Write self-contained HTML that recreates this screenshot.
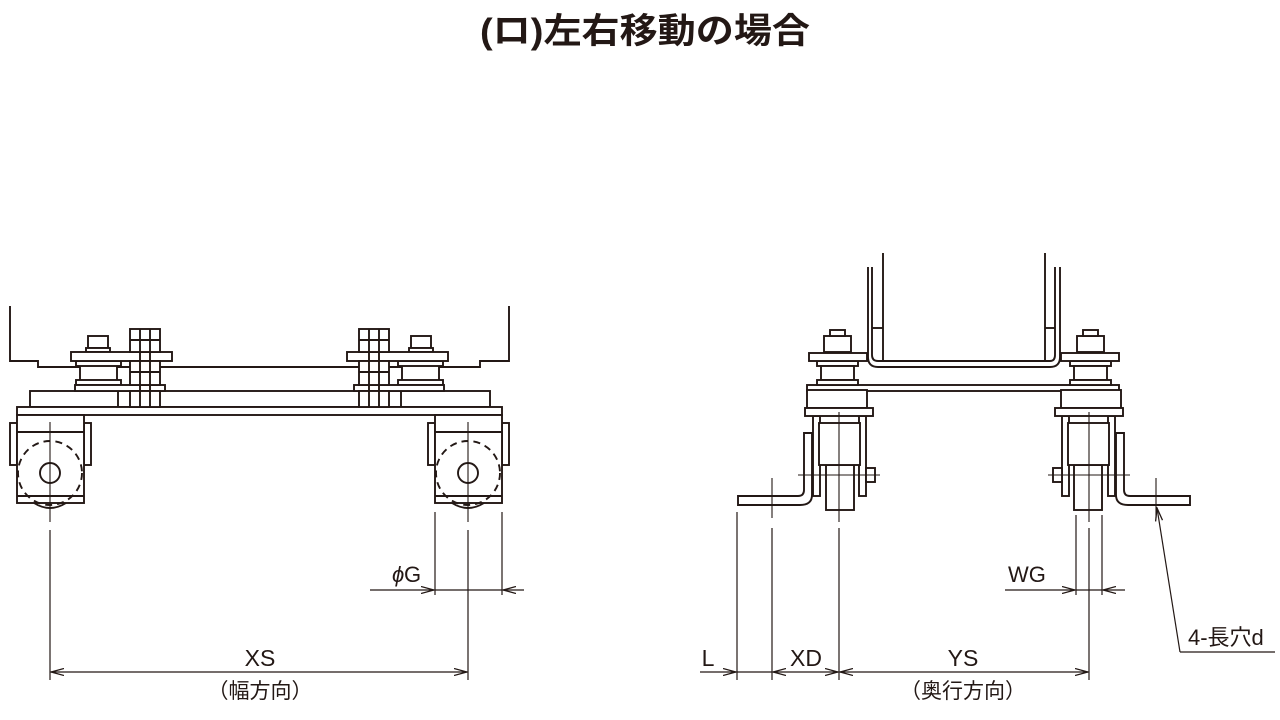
<!DOCTYPE html>
<html><head><meta charset="utf-8"><style>
html,body{margin:0;padding:0;background:#fff;}
svg{display:block}
text{font-family:"Liberation Sans","Noto Sans CJK JP",sans-serif;fill:#231815}
</style></head><body>
<svg width="1280" height="720" viewBox="0 0 1280 720" xmlns="http://www.w3.org/2000/svg">
<defs>
<marker id="ar" markerWidth="14" markerHeight="8" refX="13" refY="4" orient="auto-start-reverse" markerUnits="userSpaceOnUse">
<path d="M0,0.5 L13,4 L0,7.5" fill="none" stroke="#231815" stroke-width="1.3"/></marker>
<g id="caster" fill="#fff" stroke="#231815" stroke-width="1.9">
<rect x="10" y="423" width="7" height="42"/>
<rect x="84" y="423" width="7" height="42"/>
<path d="M34,503 Q50,513 66,503" fill="none"/>
<rect x="17" y="415" width="67" height="88"/>
<line x1="17" y1="432" x2="84" y2="432"/>
<line x1="17" y1="496" x2="84" y2="496"/>
<circle cx="50" cy="473" r="32" fill="none" stroke-dasharray="7,5"/>
<circle cx="50" cy="473" r="10" fill="none"/>
<line x1="50" y1="422" x2="50" y2="522" stroke-width="1.1"/>
</g>
<g id="boltL" fill="#fff" stroke="#231815" stroke-width="1.9">
<rect x="88" y="336" width="20" height="12"/><rect x="86" y="348" width="24" height="4"/>
<rect x="80" y="361" width="37" height="24"/>
<rect x="76" y="361" width="45" height="5"/><rect x="76" y="380" width="45" height="5"/>
<rect x="75" y="385" width="90" height="6"/>
<rect x="71" y="352" width="101" height="9"/>
<rect x="130" y="329" width="30" height="23"/>
<rect x="130" y="361" width="30" height="24"/>
<rect x="130" y="391" width="30" height="16"/>
<line x1="140" y1="329" x2="140" y2="407"/><line x1="150" y1="329" x2="150" y2="407"/>
<line x1="130" y1="340" x2="160" y2="340"/><line x1="130" y1="372" x2="160" y2="372"/>
<line x1="118" y1="391" x2="118" y2="407"/>
</g>
<g id="rHalf" fill="#fff" stroke="#231815" stroke-width="1.9">
<rect x="824" y="336" width="27" height="16"/><rect x="830" y="330" width="15" height="6"/>
<rect x="817" y="361" width="41" height="5"/><rect x="821" y="366" width="33" height="14"/><rect x="817" y="380" width="41" height="5"/>
<rect x="809" y="353" width="58" height="8"/>
<rect x="807" y="390" width="60" height="18"/>
<path d="M805,433 h7 v62 h-7z"/>
<path d="M738,496 h60 q6,0 6,-6 v-57 h8 v62 q0,10 -12,10 h-62z"/>
<line x1="772" y1="478" x2="772" y2="518" stroke-width="1.1"/>
<rect x="813" y="416" width="7" height="80"/><rect x="859" y="416" width="7" height="80"/>
<rect x="866" y="468" width="9" height="14"/>
<rect x="826" y="465" width="28" height="45"/>
<rect x="819" y="423" width="41" height="42"/>
<rect x="805" y="408" width="68" height="8"/>
<line x1="839" y1="412" x2="839" y2="522" stroke-width="1.1"/>
<line x1="798" y1="475" x2="880" y2="475" stroke-width="1.1"/>
</g>
</defs>

<text x="645" y="43" font-size="35" font-weight="bold" text-anchor="middle" textLength="330" lengthAdjust="spacingAndGlyphs">(ロ)左右移動の場合</text>

<g fill="none" stroke="#231815" stroke-width="1.9">
<path d="M10,306 V361 H38 V367 H480 V361 H509 V306"/>
<rect x="30" y="391" width="460" height="16" fill="#fff"/>
<rect x="17" y="407" width="485" height="8" fill="#fff"/>
</g>
<use href="#boltL"/>
<use href="#boltL" transform="translate(519,0) scale(-1,1)"/>
<use href="#caster"/>
<use href="#caster" transform="translate(418,0)"/>

<g stroke="#231815" stroke-width="1.2" fill="none">
<line x1="50" y1="530" x2="50" y2="680"/>
<line x1="468" y1="530" x2="468" y2="680"/>
<line x1="435" y1="512" x2="435" y2="595"/>
<line x1="502" y1="512" x2="502" y2="595"/>
<line x1="51" y1="672" x2="467" y2="672" marker-start="url(#ar)" marker-end="url(#ar)"/>
<line x1="370" y1="590" x2="434" y2="590" marker-end="url(#ar)"/>
<line x1="524" y1="590" x2="503" y2="590" marker-end="url(#ar)"/>
<line x1="435" y1="590" x2="502" y2="590"/>
</g>
<text x="260" y="666" font-size="23" text-anchor="middle">XS</text>
<text x="260" y="698" font-size="21" text-anchor="middle">（幅方向）</text>
<text x="392" y="582" font-size="22" font-style="italic">ϕ</text><text x="404" y="582" font-size="22">G</text>

<g fill="none" stroke="#231815" stroke-width="1.9">
<line x1="883" y1="253" x2="883" y2="361"/>
<line x1="1045" y1="253" x2="1045" y2="361"/>
<path d="M868,267 V357 Q868,367 878,367 H1050 Q1060,367 1060,357 V267"/>
<path d="M872,267 V355 Q872,361 878,361 H1050 Q1055,361 1055,355 V267"/>
<line x1="872" y1="328" x2="883" y2="328"/>
<line x1="1045" y1="328" x2="1055" y2="328"/>
<rect x="807" y="385" width="312" height="6" fill="#fff"/>
</g>
<use href="#rHalf"/>
<use href="#rHalf" transform="translate(1928,0) scale(-1,1)"/>

<g stroke="#231815" stroke-width="1.2" fill="none">
<line x1="737" y1="512" x2="737" y2="680"/>
<line x1="772" y1="528" x2="772" y2="680"/>
<line x1="839" y1="528" x2="839" y2="680"/>
<line x1="1089" y1="528" x2="1089" y2="680"/>
<line x1="1076" y1="515" x2="1076" y2="595"/>
<line x1="1102" y1="515" x2="1102" y2="595"/>
<line x1="700" y1="672" x2="736" y2="672" marker-end="url(#ar)"/>
<line x1="737" y1="672" x2="772" y2="672"/>
<line x1="773" y1="672" x2="838" y2="672" marker-start="url(#ar)" marker-end="url(#ar)"/>
<line x1="840" y1="672" x2="1088" y2="672" marker-start="url(#ar)" marker-end="url(#ar)"/>
<line x1="1005" y1="590" x2="1075" y2="590" marker-end="url(#ar)"/>
<line x1="1125" y1="590" x2="1103" y2="590" marker-end="url(#ar)"/>
<line x1="1076" y1="590" x2="1102" y2="590"/>
<polyline points="1180,652 1275,652"/>
<line x1="1180" y1="652" x2="1157" y2="508" marker-end="url(#ar)"/>
</g>
<text x="708" y="666" font-size="23" text-anchor="middle">L</text>
<text x="806" y="666" font-size="23" text-anchor="middle">XD</text>
<text x="963" y="666" font-size="23" text-anchor="middle">YS</text>
<text x="963" y="698" font-size="21" text-anchor="middle">（奥行方向）</text>
<text x="1027" y="582" font-size="22" text-anchor="middle">WG</text>
<text x="1188" y="645" font-size="22">4-長穴d</text>
</svg>
</body></html>
